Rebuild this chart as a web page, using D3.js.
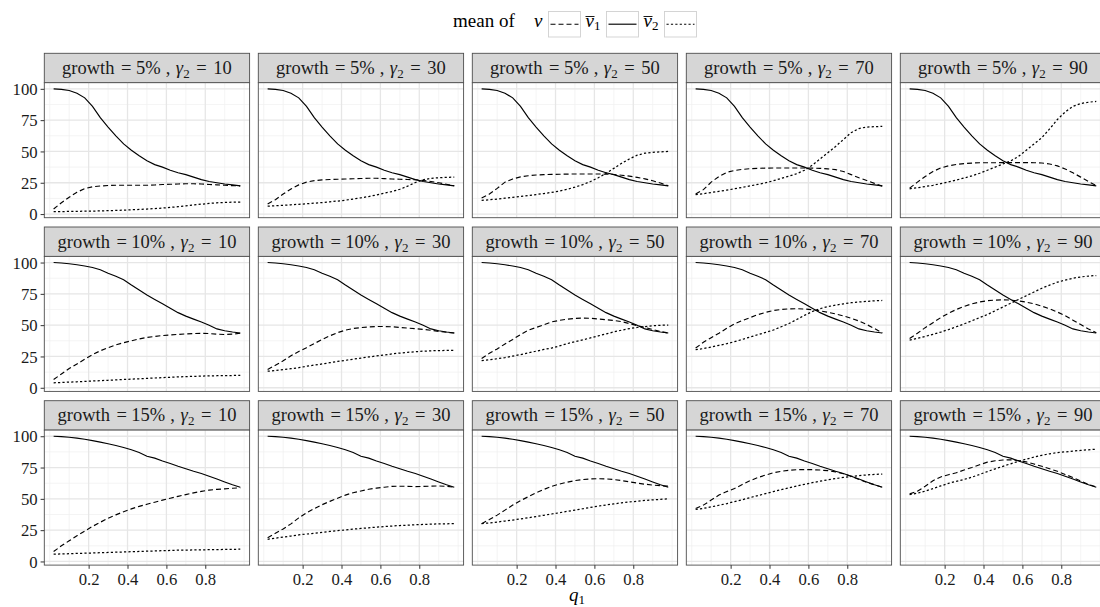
<!DOCTYPE html>
<html>
<head>
<meta charset="utf-8">
<script src="https://cdn.jsdelivr.net/npm/d3@7"></script>
<style>
  html, body { margin: 0; padding: 0; background: #ffffff; }
  svg text { font-family: "Liberation Serif", "DejaVu Serif", serif; }
</style>
</head>
<body>
<svg id="chart" width="1100" height="607"></svg>
<script>
// ---- data -------------------------------------------------------------
const q1 = [0.02, 0.06, 0.10, 0.14, 0.18, 0.22, 0.26, 0.30, 0.34, 0.38, 0.42, 0.46, 0.50,
            0.54, 0.58, 0.62, 0.66, 0.70, 0.74, 0.78, 0.82, 0.86, 0.90, 0.94, 0.98];
const growthLevels = ["5%", "10%", "15%"];
const gammaLevels = [10, 30, 50, 70, 90];
const xTicks = [0.2, 0.4, 0.6, 0.8];
const yTicks = [0, 25, 50, 75, 100];

// mean of v̄1 (same in every gamma panel of a growth row)
const vbar1_g5  = [100, 99.6, 98.7, 96.5, 92.8, 86, 77, 69.5, 62.5, 56, 51, 46.5, 42.5,
                   39.5, 37.5, 35, 33, 31.5, 29.5, 27.5, 26, 25, 24, 23.3, 22.5];
const vbar1_g10 = [100, 99.6, 99, 98.2, 97.2, 96, 94.2, 91.5, 89, 86.3, 82, 78, 74,
                   70.5, 67, 63.5, 60, 57.2, 54.8, 52.5, 50, 47, 45.5, 44.5, 43.7];
const vbar1_g15 = [100, 99.7, 99.2, 98.5, 97.6, 96.5, 95.3, 94, 92.6, 91, 89.2, 87, 84,
                   82.5, 80.2, 78.2, 76, 74, 72, 70.2, 68, 65.8, 63.5, 61.3, 59.3];

// mean of v, one series per gamma level
const v_g5 = [
  [4, 9, 13.5, 17.5, 20.3, 21.8, 22.4, 22.8, 23, 23, 23, 23, 23, 23.2, 23.6, 23.8, 24, 24.2, 24.2, 24, 23.6, 23.3, 23, 22.7, 22.5],
  [8, 11.5, 16, 20, 23.3, 25.5, 26.7, 27.3, 27.6, 27.8, 28, 28.2, 28.4, 28.6, 28.6, 28.3, 28, 27.8, 27.6, 27.4, 26.8, 26, 25, 23.8, 22.6],
  [12.8, 16, 20.5, 25.5, 28, 29.7, 30.6, 31.2, 31.5, 31.7, 31.8, 31.9, 32, 32, 32, 32, 31.9, 31.6, 31, 30.3, 29.3, 28.1, 26.6, 24.8, 22.6],
  [16, 19.5, 25.5, 30, 33.3, 34.8, 35.7, 36.2, 36.5, 36.7, 36.8, 36.8, 36.8, 36.8, 36.8, 36.7, 36.5, 36.1, 35.5, 34, 31.5, 29, 26.8, 24.5, 22.3],
  [20.7, 25.5, 30, 34, 36.8, 38.5, 39.6, 40.3, 40.7, 41, 41, 41, 41.1, 41.1, 41.1, 41.1, 41, 40.8, 40, 38.5, 36, 33, 29.5, 26, 22.8]
];
const v_g10 = [
  [6.6, 11, 15.3, 19, 22.8, 26.5, 29.5, 32, 34.2, 36, 37.5, 39, 40.2, 41, 41.7, 42.2, 42.6, 43, 43.3, 43.5, 43.3, 42.8, 42.5, 42.8, 43.5],
  [14.6, 18, 21.5, 25.5, 29, 32, 35.3, 38.5, 41.5, 44, 46, 47.3, 48.1, 48.6, 48.9, 48.9, 48.7, 48.2, 47.7, 47.2, 46.6, 45.9, 45, 44.3, 43.7],
  [23.3, 27.5, 31, 35, 38.6, 42.5, 46, 48.1, 50.3, 52.6, 53.8, 54.8, 55.4, 55.6, 55.5, 54.9, 54.3, 53.7, 52.8, 51.2, 49.6, 48.2, 46.5, 45, 43.7],
  [31.7, 36.3, 40, 43.5, 47.5, 51, 53.7, 56, 58.4, 60.2, 61.7, 62.5, 63, 63.1, 62.9, 62.3, 61.4, 60.3, 59, 57.4, 55.5, 53.3, 50.5, 47.3, 43.7],
  [39.4, 43.5, 48, 52, 56, 59.5, 62.5, 65, 67, 68.5, 69.5, 70, 70.2, 70, 69.4, 68.4, 67, 65.2, 63, 60.5, 57.5, 54, 50.5, 47, 44]
];
const v_g15 = [
  [7.9, 12.5, 16.5, 20.5, 24.3, 28, 31.3, 34.5, 37.2, 39.7, 42, 44, 45.7, 47.3, 49, 50.5, 52, 53.4, 54.8, 56, 57, 57.6, 58, 58.5, 58.8],
  [19, 22.5, 26, 30, 34.8, 38.9, 42.2, 45.3, 48, 50.5, 53, 54.9, 56.3, 57.7, 58.6, 59.3, 60, 60.1, 60, 59.8, 59.9, 60.1, 60.3, 60, 59.3],
  [30.2, 33.5, 37, 41, 45, 48.6, 51.7, 54.8, 57.5, 60, 61.8, 63.3, 64.6, 65.4, 65.9, 66.1, 65.9, 65.4, 64.6, 63.6, 62.6, 61.7, 61, 60.5, 60.1],
  [42.3, 45, 49, 53, 55.8, 58.2, 61.5, 64.5, 67, 69, 70.8, 72, 72.8, 73.3, 73.4, 73.3, 73, 72.5, 71.5, 70, 68, 65.5, 63.2, 61.2, 59.3],
  [54, 56, 60, 64.5, 67.5, 69.3, 70.8, 73, 75, 77.2, 79.3, 80.4, 81, 81.2, 80.6, 79.5, 77.8, 76, 74, 72, 69.5, 67, 64.3, 61.5, 59.5]
];

// mean of v̄2, one series per gamma level
const vbar2_g5 = [
  [2.0, 2.0, 2.1, 2.2, 2.3, 2.4, 2.5, 2.7, 2.9, 3.1, 3.4, 3.7, 4.0, 4.4, 4.8, 5.3, 5.9, 6.5, 7.2, 7.9, 8.5, 9.0, 9.3, 9.5, 9.6],
  [6.3, 6.6, 7, 7.4, 7.8, 8.2, 8.7, 9.2, 9.8, 10.4, 11.1, 12, 13, 14, 15.3, 16.7, 18, 19.8, 22.3, 25.2, 27.4, 28.5, 29, 29.3, 29.5],
  [11, 11.4, 12, 12.7, 13.3, 14, 14.8, 15.6, 16.4, 17.3, 18.4, 19.8, 21.5, 23.5, 26, 29, 32.5, 36.5, 40.5, 44, 47, 48.6, 49.3, 49.7, 50],
  [15.5, 16.3, 17.2, 18.2, 19.1, 20.2, 21.3, 22.5, 23.7, 25, 26.6, 28.5, 30.3, 32.2, 35, 39, 44, 49, 54, 59.5, 65, 68.3, 69.5, 69.8, 70],
  [20.2, 21, 22, 23, 24.3, 25.7, 27.2, 28.8, 30.5, 32.6, 35, 37.5, 40, 42.5, 46, 51, 56, 61, 68, 75.5, 81.5, 86, 88.3, 89.3, 90]
];
const vbar2_g10 = [
  [4, 4.2, 4.5, 4.8, 5.1, 5.4, 5.7, 6, 6.3, 6.6, 6.9, 7.2, 7.5, 7.8, 8.1, 8.4, 8.7, 8.9, 9.1, 9.3, 9.5, 9.6, 9.7, 9.8, 9.8],
  [13.2, 13.8, 14.5, 15.2, 16, 17.2, 18.1, 19, 20, 21, 21.9, 22.8, 23.7, 24.6, 25.4, 26.2, 27, 27.7, 28.3, 28.8, 29.2, 29.5, 29.7, 29.8, 29.9],
  [21.7, 22.4, 23.2, 24.1, 25.3, 26.5, 27.8, 29.2, 30.6, 31.7, 33.4, 35.2, 36.8, 38.3, 39.8, 41.4, 43, 44.6, 46, 47.2, 48.2, 48.9, 49.5, 49.9, 50],
  [30.4, 31.3, 32.5, 33.9, 35.2, 36.8, 38.6, 40.5, 42.4, 44.2, 46.1, 48.7, 51.3, 54.5, 57.8, 60.9, 63.2, 64.8, 66, 67, 67.9, 68.5, 69, 69.4, 69.7],
  [38, 39.5, 41, 42.7, 44.5, 46.5, 48.7, 51, 53.5, 56, 58.5, 61.5, 64.5, 67.5, 70.5, 73.5, 76.5, 79.5, 82, 84.3, 86, 87.5, 88.5, 89.2, 89.6]
];
const vbar2_g15 = [
  [5.8, 6.0, 6.2, 6.4, 6.6, 6.8, 7.0, 7.2, 7.4, 7.6, 7.8, 8.0, 8.2, 8.4, 8.6, 8.8, 9.0, 9.1, 9.2, 9.3, 9.4, 9.5, 9.6, 9.7, 9.8],
  [17.7, 18.6, 19.5, 20.3, 21.2, 21.9, 22.6, 23.3, 24, 24.6, 25.2, 25.8, 26.4, 26.9, 27.4, 27.9, 28.3, 28.7, 29, 29.3, 29.6, 29.8, 30, 30.1, 30.2],
  [30.2, 30.8, 31.5, 32.3, 33.1, 34, 34.9, 35.9, 36.9, 37.9, 38.9, 40, 41, 42.1, 43.2, 44.2, 45.1, 46, 46.8, 47.5, 48.1, 48.7, 49.2, 49.6, 50],
  [41.5, 42.4, 43.6, 44.9, 46.2, 47.8, 49.3, 51, 52.6, 54.2, 55.8, 57.3, 58.8, 60.2, 61.6, 62.9, 64.1, 65.2, 66.2, 67.1, 67.9, 68.6, 69.1, 69.5, 69.8],
  [53.4, 54.5, 56.2, 58.2, 60.3, 62.4, 64, 65.5, 67.3, 69.5, 71.8, 74, 76, 78, 80, 81.7, 83.3, 84.8, 86, 86.9, 87.5, 88.1, 88.7, 89.2, 89.7]
];

// ---- layout -----------------------------------------------------------
const panelLeft = 44.3, colPitch = 214, panelW = 205.3;
const rowTop = 53.3, rowPitch = 173.7, stripH = 29.4, panelH = 135;
const FONT = "'Liberation Serif', 'DejaVu Serif', serif";

const vbar1Rows = [vbar1_g5, vbar1_g10, vbar1_g15];
const vRows = [v_g5, v_g10, v_g15];
const vbar2Rows = [vbar2_g5, vbar2_g10, vbar2_g15];

const DASHED = "5,3", DOTTED = "2.2,2.2";
const seriesDash = [DASHED, null, DOTTED];   // v, v̄1, v̄2

// shared scales with 5% expansion on each side
const xMin = d3.min(q1), xMax = d3.max(q1), xPad = (xMax - xMin) * 0.05;
const x = d3.scaleLinear().domain([xMin - xPad, xMax + xPad]).range([0, panelW]);

const allY = [].concat(vbar1Rows.flat(), vRows.flat(2), vbar2Rows.flat(2));
const yMin = d3.min(allY), yMax = d3.max(allY), yPad = (yMax - yMin) * 0.05;
const y = d3.scaleLinear().domain([yMin - yPad, yMax + yPad]).range([panelH, 0]);

const xMinor = [0.0, 0.1, 0.3, 0.5, 0.7, 0.9, 1.0];
const yMinor = [12.5, 37.5, 62.5, 87.5];

const svg = d3.select("#chart");
const line = d3.line().x(d => x(d[0])).y(d => y(d[1]));

// strip label "growth = g , γ2 = n" with math-style spacing
function stripLabel(sel, g, gm) {
  const t = sel.append("text").attr("x", panelW / 2).attr("y", stripH / 2 + 6)
    .attr("text-anchor", "middle").attr("font-size", 18.5).attr("fill", "#1a1a1a")
    .style("font-family", FONT);
  t.append("tspan").text("growth");
  t.append("tspan").attr("dx", 6.5).text("=");
  t.append("tspan").attr("dx", 4.5).text(g);
  t.append("tspan").attr("dx", 5).text(",");
  t.append("tspan").attr("dx", 5.5).attr("font-style", "italic").text("γ");
  t.append("tspan").attr("dx", 0.3).attr("dy", 4).attr("font-size", 13).text("2");
  t.append("tspan").attr("dx", 6.5).attr("dy", -4).text("=");
  t.append("tspan").attr("dx", 6.5).text(gm);
}

growthLevels.forEach((g, r) => {
  gammaLevels.forEach((gm, c) => {
    const px = panelLeft + c * colPitch;
    const py = rowTop + r * rowPitch;

    // strip
    const strip = svg.append("g").attr("transform", `translate(${px},${py})`);
    strip.append("rect").attr("width", panelW).attr("height", stripH)
      .attr("fill", "#d6d6d6").attr("stroke", "#4d4d4d").attr("stroke-width", 0.9);
    stripLabel(strip, g, gm);

    // panel background and grid
    const p = svg.append("g").attr("transform", `translate(${px},${py + stripH})`);
    p.append("rect").attr("width", panelW).attr("height", panelH).attr("fill", "#fff");

    p.selectAll(".gxm").data(xMinor.filter(v => x(v) >= 0 && x(v) <= panelW)).join("line")
      .attr("x1", d => x(d)).attr("x2", d => x(d)).attr("y1", 0).attr("y2", panelH)
      .attr("stroke", "#efefef").attr("stroke-width", 0.7);
    p.selectAll(".gym").data(yMinor).join("line")
      .attr("x1", 0).attr("x2", panelW).attr("y1", d => y(d)).attr("y2", d => y(d))
      .attr("stroke", "#efefef").attr("stroke-width", 0.7);
    p.selectAll(".gx").data(xTicks).join("line")
      .attr("x1", d => x(d)).attr("x2", d => x(d)).attr("y1", 0).attr("y2", panelH)
      .attr("stroke", "#e6e6e6").attr("stroke-width", 1.3);
    p.selectAll(".gy").data(yTicks).join("line")
      .attr("x1", 0).attr("x2", panelW).attr("y1", d => y(d)).attr("y2", d => y(d))
      .attr("stroke", "#e6e6e6").attr("stroke-width", 1.3);

    // the three series
    const seriesData = [vRows[r][c], vbar1Rows[r], vbar2Rows[r][c]];
    seriesData.forEach((vals, i) => {
      p.append("path")
        .datum(q1.map((q, k) => [q, vals[k]]))
        .attr("d", line)
        .attr("fill", "none").attr("stroke", "#000")
        .attr("stroke-width", i === 2 ? 1.25 : 1.15)
        .attr("stroke-dasharray", seriesDash[i]);
    });

    p.append("rect").attr("width", panelW).attr("height", panelH)
      .attr("fill", "none").attr("stroke", "#4d4d4d").attr("stroke-width", 0.9);

    // axes on the outer panels
    if (c === 0) {
      const ay = p.append("g").call(d3.axisLeft(y).tickValues(yTicks).tickSize(3.7).tickPadding(3));
      ay.select(".domain").remove();
      ay.selectAll("line").attr("stroke", "#333");
      ay.selectAll("text").attr("font-size", 16.7).attr("fill", "#1a1a1a")
        .attr("dy", "0.34em").style("font-family", FONT);
    }
    if (r === growthLevels.length - 1) {
      const ax = p.append("g").attr("transform", `translate(0,${panelH})`)
        .call(d3.axisBottom(x).tickValues(xTicks).tickFormat(d3.format(".1f")).tickSize(3.7).tickPadding(4));
      ax.select(".domain").remove();
      ax.selectAll("line").attr("stroke", "#333");
      ax.selectAll("text").attr("font-size", 16.7).attr("fill", "#1a1a1a")
        .style("font-family", FONT);
    }
  });
});

// x axis title
const xt = svg.append("text").attr("x", 569).attr("y", 601)
  .attr("font-size", 19).attr("fill", "#000").style("font-family", FONT);
xt.append("tspan").attr("font-style", "italic").text("q");
xt.append("tspan").attr("font-size", 13).attr("dy", 3).text("1");

// legend
const legend = svg.append("g");
legend.append("text").attr("x", 453).attr("y", 27).attr("font-size", 19)
  .style("font-family", FONT).text("mean of");
const legendItems = [
  { sub: null, bar: false, dash: DASHED },
  { sub: "1", bar: true, dash: null },
  { sub: "2", bar: true, dash: DOTTED }
];
const keyX = [548.5, 606.5, 664.5];
legendItems.forEach((it, i) => {
  const kx = keyX[i];
  const t = legend.append("text").attr("x", kx - 6).attr("y", 27).attr("text-anchor", "end")
    .attr("font-size", 19).style("font-family", FONT);
  t.append("tspan").attr("font-style", "italic").text("v");
  if (it.sub) t.append("tspan").attr("font-size", 13).attr("dy", 3).text(it.sub);
  if (it.bar) {
    const vx = kx - 6 - 6.5;
    legend.append("line").attr("x1", vx - 8.5).attr("x2", vx + 0.5).attr("y1", 16.5).attr("y2", 16.5)
      .attr("stroke", "#000").attr("stroke-width", 0.9);
  }
  legend.append("rect").attr("x", kx).attr("y", 11.5).attr("width", 32).attr("height", 25.5)
    .attr("fill", "#fff").attr("stroke", "#d0d0d0").attr("stroke-width", 0.9);
  legend.append("line").attr("x1", kx + 2).attr("x2", kx + 30).attr("y1", 24.2).attr("y2", 24.2)
    .attr("stroke", "#000").attr("stroke-width", 1.15).attr("stroke-dasharray", it.dash);
});
</script>
</body>
</html>
